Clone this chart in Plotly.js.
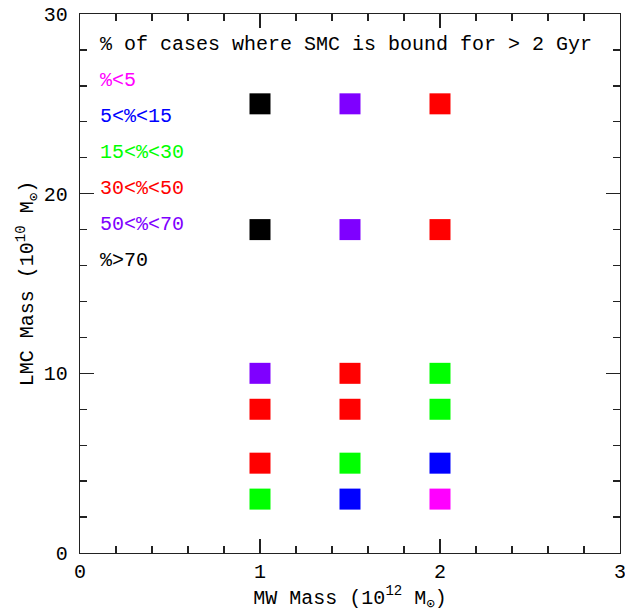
<!DOCTYPE html>
<html>
<head>
<meta charset="utf-8">
<script src="https://cdn.plot.ly/plotly-3.0.1.min.js"></script>
<style>html,body{margin:0;padding:0;background:#fff;}#chart{width:625px;height:612px;}</style>
</head>
<body>
<div id="chart"></div>
<script>
// Data
const categories = ["%<5", "5<%<15", "15<%<30", "30<%<50", "50<%<70", "%>70"];
const categoryColors = ["#ff00ff", "#0000ff", "#00ff00", "#ff0000", "#7f00ff", "#000000"];
const mwMass  = [1, 1, 1, 1, 1, 1,   1.5, 1.5, 1.5, 1.5, 1.5, 1.5,   2, 2, 2, 2, 2, 2];
const lmcMass = [25, 18, 10, 8, 5, 3, 25, 18, 10, 8, 5, 3, 25, 18, 10, 8, 5, 3];
const category = [5, 5, 4, 3, 3, 2,  4, 4, 3, 3, 2, 1,  3, 3, 2, 2, 1, 0];
const legendTitle = "% of cases where SMC is bound for > 2 Gyr";
const xTicks = [0, 1, 2, 3];
const yTicks = [0, 10, 20, 30];

const FONT = "Liberation Mono, DejaVu Sans Mono, monospace";

const traces = categories.map((cat, ci) => {
  const xs = [], ys = [];
  category.forEach((c, i) => { if (c === ci) { xs.push(mwMass[i]); ys.push(lmcMass[i]); } });
  return {
    type: "scatter", mode: "markers", name: cat, x: xs, y: ys,
    marker: { symbol: "square", size: 21, color: categoryColors[ci], line: { width: 0 } },
    showlegend: false, hoverinfo: "skip"
  };
});

const legendLines = [legendTitle].concat(categories);
const legendColors = ["#000000"].concat(categoryColors);
const annotations = legendLines.map((t, i) => ({
  text: t, x: 0.1, y: 28.3 - 2 * i, xref: "x", yref: "y",
  xanchor: "left", yanchor: "middle", showarrow: false,
  font: { family: FONT, size: 20, color: legendColors[i] }
}));

const axisCommon = {
  showline: true, linecolor: "#222", linewidth: 1.3, mirror: "ticks",
  ticks: "inside", ticklen: 14, tickwidth: 1.3, tickcolor: "#222",
  showgrid: false, zeroline: false, fixedrange: true,
  ticklabeloverflow: "allow",
  tickfont: { family: FONT, size: 20, color: "#000" }
};

const layout = {
  width: 625, height: 612,
  margin: { l: 80, r: 5, t: 14, b: 59 },
  paper_bgcolor: "#fff", plot_bgcolor: "#fff",
  xaxis: Object.assign({}, axisCommon, {
    range: [0, 3], tickvals: xTicks, ticktext: xTicks.map(String),
    minor: { dtick: 0.2, ticks: "inside", ticklen: 7, tickwidth: 1.3, tickcolor: "#222", showgrid: false },
    title: { text: "MW Mass (10<sup>12</sup> M<sub>⊙</sub>)", font: { family: FONT, size: 20, color: "#000" }, standoff: 6 }
  }),
  yaxis: Object.assign({}, axisCommon, {
    range: [0, 30], tickvals: yTicks, ticktext: yTicks.map(String),
    ticklabelstandoff: 7,
    minor: { dtick: 2, ticks: "inside", ticklen: 7, tickwidth: 1.3, tickcolor: "#222", showgrid: false },
    title: { text: "LMC Mass (10<sup>10</sup> M<sub>⊙</sub>)", font: { family: FONT, size: 20, color: "#000" }, standoff: 4 }
  }),
  annotations: annotations,
  showlegend: false
};

Plotly.newPlot("chart", traces, layout, { staticPlot: true, displayModeBar: false });
</script>
</body>
</html>
